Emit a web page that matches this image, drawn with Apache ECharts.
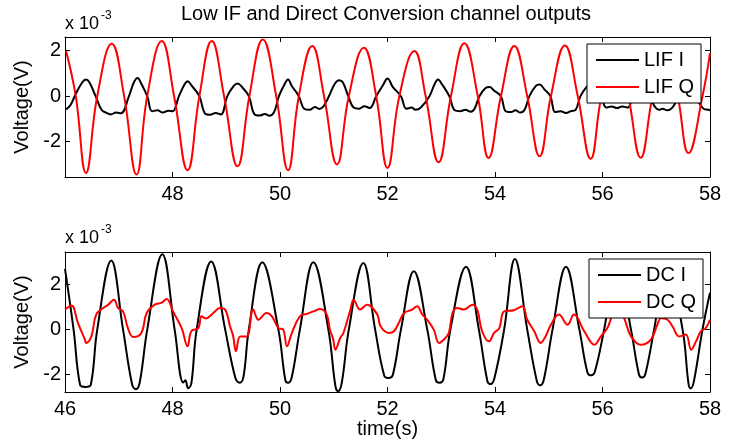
<!DOCTYPE html>
<html>
<head>
<meta charset="utf-8">
<script src="https://cdn.jsdelivr.net/npm/echarts@6.0.0/dist/echarts.min.js"></script>
<style>
  html, body { margin: 0; padding: 0; background: #fff; }
  #chart { width: 734px; height: 444px; }
</style>
</head>
<body>
<div id="chart"></div>
<script>
// values, [time (s), voltage (x 1e-3 V)]
var lifI = [
  [46.02,-0.58],[46.1,-0.4],[46.2,0.1],[46.32,0.6],[46.39,0.73],[46.45,0.62],[46.57,0],[46.68,-0.6],
  [46.76,-0.72],[46.85,-0.8],[46.95,-0.72],[47.04,-0.75],[47.19,0],[47.28,0.6],[47.35,0.8],[47.42,0.55],
  [47.53,0],[47.62,-0.66],[47.72,-0.62],[47.82,-0.72],[47.92,-0.64],[48.0,-0.66],[48.12,0],[48.22,0.5],
  [48.28,0.66],[48.36,0.45],[48.5,0],[48.6,-0.75],[48.7,-0.82],[48.8,-0.74],[48.9,-0.8],[49.02,0],
  [49.14,0.45],[49.21,0.56],[49.3,0.38],[49.42,0],[49.52,-0.78],[49.62,-0.85],[49.72,-0.78],[49.8,-0.86],
  [49.89,-0.7],[49.98,0],[50.08,0.5],[50.15,0.73],[50.22,0.45],[50.35,0],[50.45,-0.55],[50.55,-0.6],
  [50.65,-0.48],[50.73,-0.56],[50.81,-0.45],[50.91,0],[51.02,0.55],[51.1,0.7],[51.17,0.6],[51.27,0],
  [51.37,-0.5],[51.47,-0.55],[51.57,-0.44],[51.67,-0.52],[51.79,0],[51.92,0.5],[52.0,0.78],[52.1,0.4],
  [52.25,0],[52.35,-0.55],[52.45,-0.5],[52.52,-0.6],[52.62,-0.5],[52.78,0],[52.88,0.55],[52.94,0.73],
  [53.02,0.5],[53.15,0],[53.25,-0.62],[53.35,-0.66],[53.45,-0.6],[53.55,-0.68],[53.62,-0.55],[53.71,0],
  [53.82,0.35],[53.9,0.4],[53.98,0.25],[54.11,0],[54.2,-0.66],[54.3,-0.7],[54.38,-0.62],[54.47,-0.72],
  [54.55,-0.6],[54.64,0],[54.76,0.45],[54.83,0.51],[54.92,0.3],[55.03,0],[55.12,-0.7],[55.22,-0.66],
  [55.32,-0.74],[55.42,-0.65],[55.5,-0.6],[55.59,0],[55.7,0.4],[55.75,0.47],[55.85,0.3],[55.97,0],
  [56.07,-0.5],[56.17,-0.45],[56.27,-0.52],[56.37,-0.45],[56.47,-0.5],[56.56,0],[56.65,0.45],[56.71,0.55],
  [56.8,0.3],[56.92,-0.2],[56.97,-0.45],[57.05,-0.6],[57.12,-0.55],[57.2,-0.62],[57.3,-0.5],[57.42,0],
  [57.52,0.45],[57.6,0.55],[57.7,0.2],[57.8,-0.3],[57.88,-0.55],[57.97,-0.6],[58.0,-0.62]
];
var lifQ = [
  [46.02,1.98],[46.2,0],[46.39,-3.37],[46.6,0],[46.87,2.3],[47.1,0],[47.33,-3.44],[47.53,0],
  [47.8,2.42],[48.03,0],[48.28,-3.25],[48.5,0],[48.73,2.42],[48.96,0],[49.21,-3.08],[49.43,0],
  [49.68,2.49],[49.93,0],[50.15,-3.25],[50.35,0],[50.6,2.2],[50.82,0],[51.06,-3.0],[51.28,0],
  [51.56,2.13],[51.79,0],[52.0,-3.15],[52.22,0],[52.5,1.98],[52.71,0],[52.95,-2.9],[53.18,0],
  [53.43,2.32],[53.68,0],[53.88,-2.71],[54.11,0],[54.36,2.2],[54.6,0],[54.83,-2.64],[55.04,0],
  [55.3,2.23],[55.54,0],[55.78,-2.75],[55.98,0],[56.25,2.2],[56.48,0],[56.71,-2.7],[56.93,0],
  [57.17,2.2],[57.4,0],[57.6,-2.5],[57.86,0],[58.0,1.89]
];
var dcI = [
  [46.0,2.7],[46.16,0],[46.28,-2.45],[46.38,-2.55],[46.48,-2.45],[46.6,0],[46.86,3.07],
  [47.08,0],[47.25,-2.45],[47.32,-2.65],[47.39,-2.35],[47.53,0],[47.81,3.35],
  [48.04,0],[48.2,-2.35],[48.24,-2.25],[48.29,-2.6],[48.35,-2.4],[48.45,0],[48.72,3.03],
  [48.98,0],[49.17,-2.15],[49.25,-2.36],[49.32,-2.1],[49.42,0],[49.67,2.99],
  [49.97,0],[50.1,-2.25],[50.15,-2.36],[50.22,-2.1],[50.37,0],[50.62,2.99],
  [50.9,0],[51.03,-2.5],[51.08,-2.74],[51.15,-2.35],[51.28,0],[51.55,2.96],
  [51.77,0],[51.94,-2.05],[52.02,-2.15],[52.1,-2.0],[52.25,0],[52.49,2.6],
  [52.74,0],[52.9,-2.25],[52.97,-2.36],[53.04,-2.2],[53.17,0],[53.46,2.8],
  [53.7,0],[53.86,-2.3],[53.92,-2.42],[53.99,-2.15],[54.17,0],[54.37,3.14],
  [54.6,0],[54.78,-2.3],[54.84,-2.47],[54.91,-2.2],[55.07,0],[55.32,2.79],
  [55.57,0],[55.72,-1.9],[55.79,-2.03],[55.86,-1.85],[56.03,0],[56.27,2.9],
  [56.53,0],[56.68,-2.0],[56.74,-2.13],[56.8,-1.95],[56.96,0],[57.2,2.95],
  [57.49,0],[57.6,-2.4],[57.64,-2.61],[57.7,-2.3],[57.86,0],[58.0,1.64]
];
var dcQ = [
  [46.0,0.89],[46.12,1.07],[46.24,0.3],[46.37,-0.44],[46.39,-0.59],[46.49,-0.3],[46.58,0.67],[46.71,0.96],
  [46.8,1.1],[46.91,1.33],[46.99,0.96],[47.08,0.81],[47.17,0.07],[47.27,-0.33],[47.42,-0.15],[47.52,0.74],
  [47.67,1.11],[47.8,1.2],[47.89,1.36],[48.01,0.81],[48.17,0.07],[48.28,-0.74],[48.35,-0.07],[48.48,0.07],
  [48.54,0.59],[48.62,0.5],[48.76,0.74],[48.88,0.96],[48.98,0.89],[49.07,0.15],[49.13,-0.3],[49.18,-0.96],
  [49.26,-0.3],[49.38,-0.3],[49.5,0.89],[49.6,0.44],[49.75,0.74],[49.85,0.59],[49.97,0.07],[50.06,0],
  [50.13,-0.74],[50.22,-0.15],[50.37,0.59],[50.5,0.7],[50.62,0.81],[50.75,0.92],[50.87,0.67],[50.93,0],
  [50.99,-0.44],[51.03,-0.89],[51.12,-0.37],[51.18,-0.15],[51.31,0.89],[51.37,1.33],[51.49,0.89],[51.62,1.11],
  [51.81,0.67],[51.87,0.15],[52.03,-0.15],[52.12,-0.07],[52.21,0.3],[52.31,0.74],[52.46,0.89],[52.55,1.04],
  [52.65,0.67],[52.74,0.44],[52.86,0],[52.96,-0.59],[53.05,-0.44],[53.14,-0.15],[53.21,0.74],[53.3,0.96],
  [53.42,0.89],[53.58,1.11],[53.67,0.89],[53.76,-0.07],[53.89,-0.52],[53.98,-0.15],[54.08,0.07],[54.17,0.81],
  [54.35,0.86],[54.51,1.04],[54.6,0.44],[54.73,-0.07],[54.85,-0.59],[54.94,-0.3],[55.04,0.22],[55.19,0.67],
  [55.35,0.22],[55.47,0.67],[55.66,-0.07],[55.85,-0.67],[55.97,-0.3],[56.09,0.07],[56.2,0.7],[56.32,0.9],
  [56.42,0.4],[56.53,-0.3],[56.71,-0.67],[56.9,-0.44],[57.02,0.22],[57.09,0.52],[57.21,0.44],[57.3,0.15],
  [57.43,-0.3],[57.55,-0.22],[57.65,-0.89],[57.74,-0.52],[57.83,-0.07],[57.92,0.07],[58.0,0.44]
];
var yTicks = [-2, 0, 2];
var topRange = [-3.55, 2.6];
var bottomRange = [-2.77, 3.45];

var FONT = 'Liberation Sans, Arial, Helvetica, sans-serif';
var chart = echarts.init(document.getElementById('chart'));

function xAx(grid, pos, labels, extra) {
  var a = {
    gridIndex: grid, type: 'value', position: pos, min: 46, max: 58, interval: 2,
    axisLine: { show: true, onZero: false, lineStyle: { color: '#000', width: 1 } },
    axisTick: { show: true, inside: true, length: 5, lineStyle: { color: '#000' } },
    axisLabel: { show: labels, margin: 7, color: '#000', fontSize: 20, fontFamily: FONT },
    splitLine: { show: false }
  };
  return Object.assign(a, extra || {});
}
function yAx(grid, pos, range, labels, extra) {
  var a = {
    gridIndex: grid, type: 'value', position: pos, min: range[0], max: range[1],
    axisLine: { show: true, onZero: false, lineStyle: { color: '#000', width: 1 } },
    axisTick: { show: true, inside: true, length: 5, customValues: yTicks, lineStyle: { color: '#000' } },
    axisLabel: { show: labels, customValues: yTicks, margin: 4, color: '#000', fontSize: 20, fontFamily: FONT },
    splitLine: { show: false }
  };
  return Object.assign(a, extra || {});
}
var yName = {
  name: 'Voltage(V)', nameLocation: 'middle', nameGap: 31, nameRotate: 90,
  nameTextStyle: { color: '#000', fontSize: 20, fontFamily: FONT }
};
function legendBox(names, left, top) {
  return {
    data: names, orient: 'vertical', left: left, top: top, icon: 'rect',
    padding: [6, 7, 6, 9], itemWidth: 43, itemHeight: 2, itemGap: 7,
    backgroundColor: '#fff', borderColor: '#000', borderWidth: 1, borderRadius: 0,
    textStyle: { color: '#000', fontSize: 20, fontFamily: FONT }
  };
}

chart.setOption({
  animation: false,
  backgroundColor: '#fff',
  grid: [
    { left: 65, top: 37, width: 645, height: 140 },
    { left: 65, top: 252, width: 645, height: 140 }
  ],
  xAxis: [
    xAx(0, 'bottom', true, { axisLabel: { show: true, showMinLabel: false, margin: 7, color: '#000', fontSize: 20, fontFamily: FONT } }),
    xAx(0, 'top', false),
    xAx(1, 'bottom', true, {
      name: 'time(s)', nameLocation: 'middle', nameGap: 24,
      nameTextStyle: { color: '#000', fontSize: 20, fontFamily: FONT }
    }),
    xAx(1, 'top', false)
  ],
  yAxis: [
    yAx(0, 'left', topRange, true, yName),
    yAx(0, 'right', topRange, false),
    yAx(1, 'left', bottomRange, true, yName),
    yAx(1, 'right', bottomRange, false)
  ],
  legend: [
    legendBox(['LIF I', 'LIF Q'], 587, 44),
    legendBox(['DC I', 'DC Q'], 589, 259)
  ],
  graphic: [
    { type: 'text', x: 386, y: 14, style: { text: 'Low IF and Direct Conversion channel outputs', font: '20px ' + FONT, fill: '#000', align: 'center', verticalAlign: 'middle' } },
    { type: 'text', x: 65, y: 24, style: { text: 'x 10', font: '18px ' + FONT, fill: '#000', align: 'left', verticalAlign: 'middle' } },
    { type: 'text', x: 101, y: 16, style: { text: '-3', font: '12px ' + FONT, fill: '#000', align: 'left', verticalAlign: 'middle' } },
    { type: 'text', x: 65, y: 238, style: { text: 'x 10', font: '18px ' + FONT, fill: '#000', align: 'left', verticalAlign: 'middle' } },
    { type: 'text', x: 101, y: 230, style: { text: '-3', font: '12px ' + FONT, fill: '#000', align: 'left', verticalAlign: 'middle' } }
  ],
  series: [
    { name: 'LIF I', type: 'line', xAxisIndex: 0, yAxisIndex: 0, data: lifI, symbol: 'none', smooth: 0.4,
      lineStyle: { color: '#000', width: 2 }, itemStyle: { color: '#000' } },
    { name: 'LIF Q', type: 'line', xAxisIndex: 0, yAxisIndex: 0, data: lifQ, symbol: 'none', smooth: 0.45,
      lineStyle: { color: '#ff0000', width: 2 }, itemStyle: { color: '#ff0000' } },
    { name: 'DC I', type: 'line', xAxisIndex: 2, yAxisIndex: 2, data: dcI, symbol: 'none', smooth: 0.4,
      lineStyle: { color: '#000', width: 2 }, itemStyle: { color: '#000' } },
    { name: 'DC Q', type: 'line', xAxisIndex: 2, yAxisIndex: 2, data: dcQ, symbol: 'none', smooth: 0.4,
      lineStyle: { color: '#ff0000', width: 2 }, itemStyle: { color: '#ff0000' } }
  ]
});
</script>
</body>
</html>
